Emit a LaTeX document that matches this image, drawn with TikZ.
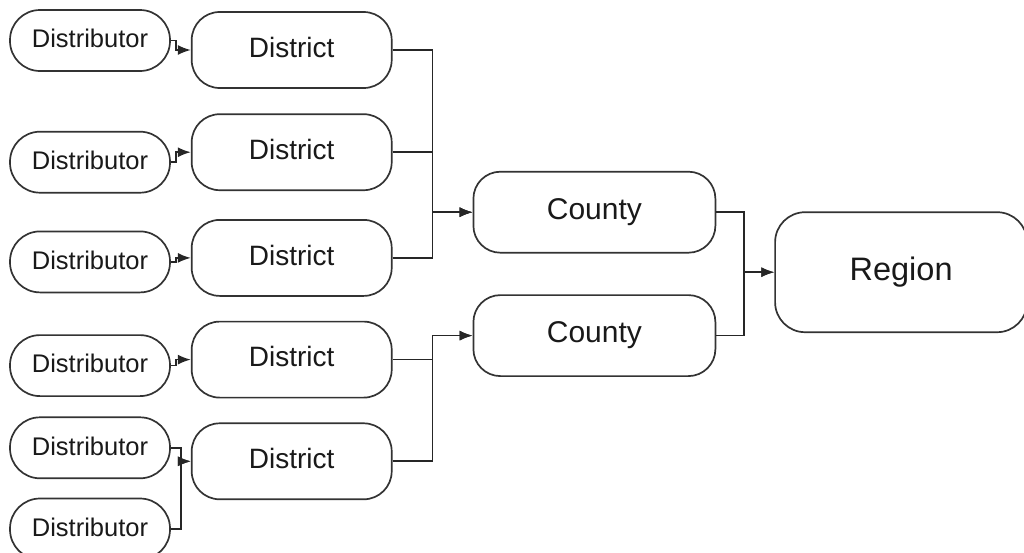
\documentclass[tikz,border=0pt]{standalone}
\usepackage{fontspec}
\setmainfont{Liberation Sans}
\usetikzlibrary{positioning,arrows.meta}

\begin{document}
\begin{tikzpicture}[distributor/.style={draw=black!80,line width=1.7pt,rounded corners=30pt,minimum width=160pt,minimum height=61pt,inner sep=0pt,text depth=4pt,text=black!90,font=\fontsize{25.5}{30}\selectfont},district/.style={draw=black!80,line width=1.7pt,rounded corners=28pt,minimum width=200pt,minimum height=76pt,inner sep=0pt,text depth=6pt,text=black!90,font=\fontsize{28}{32}\selectfont},county/.style={draw=black!80,line width=1.7pt,rounded corners=27pt,minimum width=242pt,minimum height=81pt,inner sep=0pt,text=black!90,font=\fontsize{30}{34}\selectfont},region/.style={draw=black!80,line width=1.7pt,rounded corners=30pt,minimum width=252pt,minimum height=120pt,inner sep=0pt,text=black!90,font=\fontsize{32.5}{36}\selectfont},link/.style={draw=black!85,line width=1.7pt,-{Latex[length=13pt,width=10pt]}}]
	\useasboundingbox (0,0) rectangle (1024pt,-552pt);

	\node[distributor] at (90pt,-40.5pt)								(1)	{Distributor};
	\node[distributor,node distance=59pt,below=of 1]					(2)	{Distributor};
	\node[distributor,node distance=37pt,below=of 2]					(3)	{Distributor};
	\node[distributor,node distance=41pt,below=of 3]					(4)	{Distributor};
	\node[distributor,node distance=19.5pt,below=of 4]					(5)	{Distributor};
	\node[distributor,node distance=18.5pt,below=of 5]					(6)	{Distributor};

	\node[district,node distance=20pt,right=of 1,yshift=-9.5pt]		(11){District};
	\node[district,node distance=20pt,right=of 2,yshift=10pt]			(12){District};
	\node[district,node distance=20pt,right=of 3,yshift=4pt]			(13){District};
	\node[district,node distance=20pt,right=of 4,yshift=6pt]			(14){District};
	\node[district,node distance=20pt,right=of 5,yshift=-13.5pt]		(15){District};

	\node[county,node distance=80pt,right=of 12,yshift=-60pt]			(21){County};
	\node[county,node distance=80pt,right=of 14,yshift=24pt]			(22){County};

	\node[region,node distance=58pt,right=of 21,yshift=-60pt]			(31){Region};

	\draw[link] (1.east) -- ++(5pt,0) |- (11.west);
	\draw[link] (2.east) -- ++(5pt,0) |- (12.west);
	\draw[link] (3.east) -- ++(5pt,0) |- (13.west);
	\draw[link] (4.east) -- ++(5pt,0) |- (14.west);
	\draw[link] (5.east) -- ++(10pt,0) |- (15.west);
	\draw[link] (6.east) -- ++(10pt,0) |- (15.west);

	\draw[link] (11.east) -- ++(40pt,0) |- (21.west);
	\draw[link] (12.east) -- ++(40pt,0) |- (21.west);
	\draw[link] (13.east) -- ++(40pt,0) |- (21.west);
	\draw[link] (14.east) -- ++(40pt,0) |- (22.west);
	\draw[link] (15.east) -- ++(40pt,0) |- (22.west);

	\draw[link] (21.east) -- ++(28pt,0) |- (31.west);
	\draw[link] (22.east) -- ++(28pt,0) |- (31.west);
\end{tikzpicture}
\end{document}
